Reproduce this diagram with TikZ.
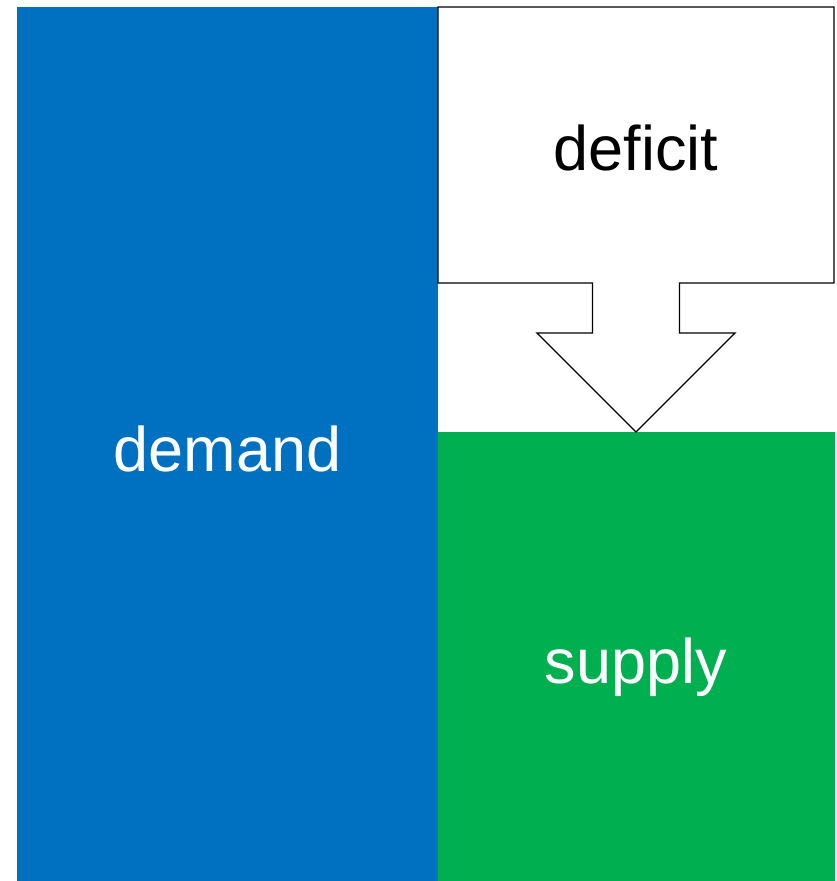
\documentclass[tikz,border=0pt]{standalone}
\usepackage{fontspec}
\setmainfont{Liberation Sans}
\definecolor{dblue}{HTML}{0070C0}
\definecolor{sgreen}{HTML}{00B050}
\begin{document}
\begin{tikzpicture}[x=1pt,y=-1pt,
  block/.style={draw=none,inner sep=0pt,outer sep=0pt,anchor=north west},
  lbl/.style={inner sep=0pt,anchor=base,font=\fontsize{63}{75}\selectfont},
  outline/.style={draw=black,fill=white,line width=1.3pt,line join=miter}]
\useasboundingbox (0,0) rectangle (836,881);
\node[block,fill=dblue,minimum width=421pt,minimum height=874pt] (demandbox) at (17,7) {};
\node[block,fill=sgreen,minimum width=397pt,minimum height=449pt] (supplybox) at (438,432) {};
\draw[outline] (438,7) -- (834,7) -- (834,283) -- (679.5,283) -- (679.5,333) -- (735,333)
  -- (636,432) -- (537,333) -- (592.5,333) -- (592.5,283) -- (438,283) -- cycle;
\node[lbl,text=white] (demand) at (227.5,471) {demand};
\node[lbl,text=white] (supply) at (636,683) {supply};
\node[lbl] (deficit) at (636,170) {deficit};
\end{tikzpicture}
\end{document}
